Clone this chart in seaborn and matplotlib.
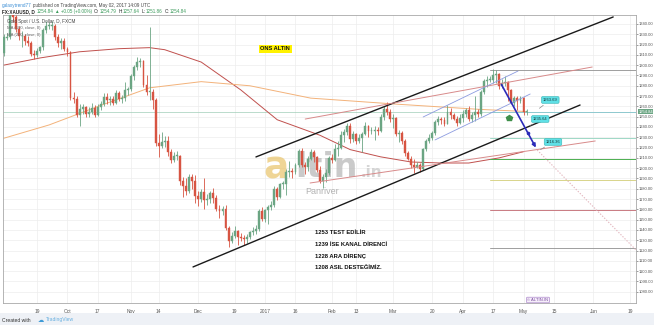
import numpy as np
import pandas as pd
import matplotlib
matplotlib.use("Agg")
import matplotlib.pyplot as plt
import seaborn as sns
from matplotlib.patches import Rectangle, FancyArrowPatch

# ---------------- data (daily XAUUSD, Sep 2 2016 .. May 2 2017, bar index) ----------------
opens = [
    1312, 1326, 1327, 1349, 1347, 1335, 1328, 1328, 1323, 1322,
    1311, 1310, 1314, 1318, 1334, 1338, 1338, 1338, 1327, 1322,
    1323, 1316, 1313, 1268, 1267, 1252, 1257, 1259, 1253, 1255,
    1258, 1252, 1259, 1262, 1269, 1266, 1267, 1263, 1273, 1267,
    1268, 1276, 1277, 1289, 1298, 1303, 1304, 1281, 1274, 1274,
    1266, 1224, 1222, 1225, 1226, 1216, 1208, 1212, 1212, 1188,
    1183, 1178, 1191, 1188, 1173, 1170, 1177, 1169, 1170, 1176,
    1171, 1160, 1158, 1160, 1142, 1129, 1134, 1139, 1133, 1132,
    1131, 1133, 1138, 1139, 1141, 1158, 1151, 1159, 1162, 1164,
    1180, 1172, 1185, 1185, 1196, 1197, 1196, 1203, 1217, 1203,
    1201, 1209, 1216, 1211, 1198, 1188, 1191, 1195, 1210, 1208,
    1219, 1220, 1232, 1235, 1241, 1228, 1233, 1226, 1229, 1233,
    1241, 1236, 1236, 1237, 1236, 1250, 1257, 1255, 1248, 1249,
    1233, 1234, 1226, 1215, 1209, 1203, 1201, 1203, 1199, 1219,
    1226, 1229, 1234, 1245, 1248, 1247, 1243, 1255, 1252, 1248,
    1244, 1249, 1253, 1256, 1248, 1252, 1255, 1253, 1274, 1285,
    1286, 1286, 1290, 1291, 1280, 1283, 1284, 1276, 1263, 1268,
    1265, 1268, 1254.79]
highs = [
    1330, 1331, 1352, 1352, 1349, 1338, 1333, 1330, 1328, 1323,
    1315, 1317, 1319, 1336, 1343, 1342, 1343, 1340, 1330, 1326,
    1326, 1318, 1314, 1274, 1270, 1262, 1262, 1260, 1259, 1263,
    1261, 1262, 1265, 1273, 1273, 1270, 1270, 1276, 1275, 1271,
    1284, 1279, 1291, 1300, 1308, 1307, 1305, 1290, 1337, 1277,
    1268, 1233, 1235, 1231, 1231, 1219, 1216, 1217, 1213, 1191,
    1190, 1194, 1194, 1193, 1178, 1180, 1190, 1175, 1178, 1181,
    1174, 1164, 1163, 1164, 1144, 1138, 1144, 1140, 1137, 1135,
    1136, 1139, 1143, 1145, 1160, 1162, 1160, 1164, 1168, 1183,
    1182, 1186, 1188, 1199, 1207, 1200, 1205, 1219, 1220, 1206,
    1212, 1219, 1218, 1212, 1202, 1194, 1199, 1212, 1214, 1223,
    1226, 1236, 1238, 1244, 1244, 1236, 1234, 1233, 1235, 1245,
    1242, 1240, 1241, 1240, 1253, 1260, 1264, 1257, 1253, 1250,
    1237, 1236, 1228, 1217, 1212, 1209, 1206, 1205, 1220, 1228,
    1233, 1236, 1247, 1251, 1250, 1250, 1261, 1258, 1254, 1251,
    1253, 1256, 1258, 1260, 1255, 1270, 1257, 1276, 1287, 1289,
    1289, 1296, 1295, 1292, 1287, 1289, 1285, 1277, 1270, 1270,
    1270, 1269, 1257.64]
lows = [
    1309, 1324, 1325, 1342, 1332, 1324, 1318, 1320, 1319, 1309,
    1306, 1308, 1312, 1315, 1331, 1335, 1334, 1324, 1318, 1316,
    1314, 1309, 1266, 1263, 1250, 1241, 1253, 1250, 1250, 1253,
    1250, 1251, 1256, 1260, 1262, 1261, 1261, 1262, 1265, 1263,
    1265, 1271, 1275, 1286, 1295, 1298, 1279, 1271, 1266, 1257,
    1222, 1211, 1220, 1221, 1212, 1205, 1206, 1208, 1184, 1172,
    1174, 1176, 1180, 1166, 1163, 1167, 1160, 1164, 1166, 1166,
    1158, 1152, 1155, 1140, 1123, 1127, 1132, 1125, 1129, 1125,
    1127, 1131, 1135, 1136, 1139, 1149, 1148, 1146, 1159, 1162,
    1169, 1171, 1180, 1174, 1191, 1190, 1194, 1201, 1201, 1194,
    1197, 1208, 1206, 1196, 1186, 1181, 1187, 1193, 1205, 1207,
    1212, 1219, 1225, 1232, 1224, 1225, 1223, 1224, 1216, 1232,
    1230, 1233, 1227, 1232, 1235, 1247, 1252, 1245, 1239, 1231,
    1225, 1223, 1212, 1208, 1200, 1195, 1200, 1196, 1198, 1217,
    1224, 1227, 1232, 1242, 1243, 1241, 1243, 1248, 1247, 1241,
    1243, 1245, 1250, 1246, 1245, 1246, 1250, 1251, 1272, 1279,
    1284, 1283, 1283, 1277, 1278, 1280, 1265, 1262, 1260, 1256,
    1263, 1252, 1251.86]
closes = [
    1327, 1327, 1349, 1347, 1335, 1328, 1328, 1323, 1322, 1311,
    1310, 1314, 1318, 1334, 1338, 1338, 1338, 1327, 1322, 1323,
    1316, 1313, 1268, 1267, 1252, 1257, 1259, 1253, 1255, 1258,
    1252, 1259, 1262, 1269, 1266, 1267, 1263, 1273, 1267, 1268,
    1276, 1277, 1289, 1298, 1303, 1304, 1281, 1274, 1274, 1266,
    1224, 1222, 1225, 1226, 1216, 1208, 1212, 1212, 1188, 1183,
    1178, 1191, 1188, 1173, 1170, 1177, 1169, 1170, 1176, 1171,
    1160, 1158, 1160, 1142, 1129, 1134, 1139, 1133, 1132, 1131,
    1133, 1138, 1139, 1141, 1158, 1151, 1159, 1162, 1164, 1180,
    1172, 1185, 1185, 1196, 1197, 1196, 1203, 1217, 1203, 1201,
    1209, 1216, 1211, 1198, 1188, 1191, 1195, 1210, 1208, 1219,
    1220, 1232, 1235, 1241, 1228, 1233, 1226, 1229, 1233, 1241,
    1236, 1236, 1237, 1236, 1250, 1257, 1255, 1248, 1249, 1233,
    1234, 1226, 1215, 1209, 1203, 1201, 1203, 1199, 1219, 1226,
    1229, 1234, 1245, 1248, 1247, 1243, 1255, 1252, 1248, 1244,
    1249, 1253, 1256, 1248, 1252, 1255, 1253, 1274, 1285, 1286,
    1286, 1290, 1291, 1280, 1283, 1284, 1276, 1263, 1268, 1265,
    1268, 1255, 1254.84]

# moving averages (bar index, price)
ma100_idx = [0, 12, 25, 38, 48, 53, 65, 78, 90, 104, 114, 124, 134, 144, 153, 163, 171]
ma100_val = [1300, 1307, 1313, 1316, 1317, 1315, 1303, 1276, 1247, 1232, 1218, 1211, 1206, 1205, 1205, 1210, 1216]
ma200_idx = [0, 15, 32, 48, 65, 81, 101, 130, 157, 172]
ma200_val = [1229, 1242, 1261, 1278, 1284, 1280, 1268, 1262, 1257, 1255]

# x-axis tick labels (bar index of the labelled day)
xtick_idx = [11, 21, 31, 42, 51, 64, 76, 86, 96, 108, 116, 128, 141, 151, 161, 171, 181, 194, 206]
xtick_lab = ["19", "Oct", "17", "Nov", "14", "Dec", "19", "2017", "16", "Feb", "13", "Mar",
             "20", "Apr", "17", "May", "15", "Jun", "19"]
ytick_vals = list(range(1080, 1341, 10))

# drawings (bar index, price)
chan_upper = ([83.0, 200.5], [1210.9, 1346.8])
chan_lower = ([62.3, 189.6], [1104.1, 1261.3])
red_upper = ([99.2, 193.6], [1247.7, 1298.2])
red_lower = ([100.8, 194.6], [1185.6, 1226.4])
blue_upper = ([138.0, 169.2], [1249.7, 1294.3])
blue_lower = ([141.9, 173.2], [1227.4, 1272.0])
arrow_pts = ([163.3, 175.5], [1283.6, 1217.6])
dotted_pts = ([175.5, 208.0], [1217.6, 1120.6])
fib_start = 160.0
fib_levels = [1295.4, 1254.6, 1229.4, 1209.0, 1188.6, 1159.6, 1122.6]
fib_colors = ["#9e9e9e", "#8fc9d0", "#9ed8c6", "#4caf50", "#d8d48a", "#c97a82", "#9e9e9e"]
callouts = [("1263.69", 179.8, 1266.2, 175.5, 1256.5),
            ("1235.64", 176.5, 1247.7, 172.5, 1240.0),
            ("1216.36", 180.7, 1225.4, 175.8, 1216.6)]
notes = ["1253 TEST EDİLİR", "1239 İSE KANAL DİRENCİ", "1228 ARA DİRENÇ", "1208 ASIL DESTEĞİMİZ."]
last_price = 1254.84

UP, DOWN = "#6ba583", "#d75442"

sns.set_theme(style="white")
plt.rcParams['font.family'] = ['Liberation Sans', 'DejaVu Sans']

W, H = 654, 325
fig = plt.figure(figsize=(W / 100, H / 100), dpi=100)
fig.patch.set_facecolor("white")
renderer = fig.canvas.get_renderer()

def fx(x):
    return x / W

def fy(y):
    return 1 - y / H

def chain(x0, y, parts, fs):
    x = x0
    for txt, col, wt, gap in parts:
        t = fig.text(fx(x), fy(y), txt, fontsize=fs, color=col, fontweight=wt,
                     ha="left", va="center")
        x += t.get_window_extent(renderer=renderer).width + gap

# footer band
fig.add_artist(Rectangle((0, 0), 1, 12 / H, transform=fig.transFigure,
                         facecolor="#eef1f6", edgecolor="none", zorder=0))

ax = fig.add_axes([fx(3), fy(303), (636 - 3) / W, (303 - 15) / H])
ax.set_facecolor("white")
ax.set_xlim(-0.2, 208.0)
ax.set_ylim(1069.1, 1348.7)

# grid
for v in ytick_vals:
    ax.axhline(v, color="#ededed", lw=0.5, zorder=0)
for v in xtick_idx:
    ax.axvline(v, color="#ededed", lw=0.5, zorder=0)

df = pd.DataFrame({"idx": np.arange(len(closes)), "open": opens, "high": highs,
                   "low": lows, "close": closes})
df["col"] = np.where(df["close"] >= df["open"], UP, DOWN)

# moving averages
sns.lineplot(x=ma100_idx, y=ma100_val, ax=ax, color="#c0504d", lw=0.7, zorder=2)
sns.lineplot(x=ma200_idx, y=ma200_val, ax=ax, color="#f3b27a", lw=0.7, zorder=2)

# watermark
ax.text(85.5, 1190, "a", fontsize=27, fontweight="bold", color="#e9c46a", alpha=0.7,
        family="DejaVu Sans", ha="left", va="baseline", zorder=1)
ax.text(96.0, 1191, "ltin", fontsize=24, fontweight="bold", color="#b9b9b9", alpha=0.75,
        family="DejaVu Sans", ha="left", va="baseline", zorder=1)
ax.text(117.5, 1191, ".in", fontsize=11, fontweight="bold", color="#c9c9c9", alpha=0.75,
        family="DejaVu Sans", ha="left", va="baseline", zorder=1)
ax.text(99.2, 1177, "Panriver", fontsize=6.5, color="#a5a5a5", alpha=0.85,
        ha="left", va="center", zorder=1)

# candles
ax.vlines(df["idx"], df["low"], df["high"], colors=df["col"], lw=0.6, zorder=3)
body = (df["close"] - df["open"]).abs().clip(lower=0.6)
ax.bar(df["idx"], body, bottom=df[["open", "close"]].min(axis=1), width=0.62,
       color=df["col"], edgecolor=df["col"], linewidth=0.3, zorder=4)

# fibonacci levels
for lv, c in zip(fib_levels, fib_colors):
    ax.plot([fib_start, 208.0], [lv, lv], color=c, lw=0.7, zorder=2)

# drawing lines
ax.plot(*chan_upper, color="#1a1a1a", lw=1.0, zorder=5)
ax.plot(*chan_lower, color="#1a1a1a", lw=1.0, zorder=5)
ax.plot(*red_upper, color="#d88a8a", lw=0.7, zorder=5)
ax.plot(*red_lower, color="#d88a8a", lw=0.7, zorder=5)
ax.plot(*blue_upper, color="#8c9be0", lw=0.6, zorder=5)
ax.plot(*blue_lower, color="#8c9be0", lw=0.6, zorder=5)
ax.plot(*dotted_pts, color="#e3b7bf", lw=0.8, ls=(0, (1.2, 1.4)), zorder=5)
ax.add_patch(FancyArrowPatch((arrow_pts[0][0], arrow_pts[1][0]), (arrow_pts[0][1], arrow_pts[1][1]),
                             arrowstyle="-|>", mutation_scale=5, color="#2b2bb8", lw=1.2, zorder=6))
ax.plot([172.4], [1234.5], marker="o", ms=1.6, color="#2b2bb8", zorder=6)
ax.plot([166.3], [1248.6], marker="p", ms=4.0, color="#3f8f4a", zorder=6)

for txt, bx, by, tx, ty in callouts:
    ax.annotate(txt, xy=(tx, ty), xytext=(bx, by), fontsize=3.0, color="#1a3a3a",
                ha="center", va="center", zorder=7,
                bbox=dict(boxstyle="round,pad=0.35", fc="#5fe0e6", ec="#3cb7b7", lw=0.4),
                arrowprops=dict(arrowstyle="-", color="#8a8a8a", lw=0.5))

# last price line
ax.axhline(last_price, color="#9fcdb8", lw=0.5, zorder=1)

# texts
ax.text(89.3, 1315.7, "ONS ALTIN", fontsize=4.1, fontweight="bold", color="#111111",
        ha="center", va="center", zorder=7,
        bbox=dict(boxstyle="square,pad=0.3", fc="#fff200", ec="none"))
for k, t in enumerate(notes):
    fig.text(fx(315), fy(233 + 11.5 * k), t, fontsize=4.2, fontweight="bold",
             color="#111111", ha="left", va="center")

# axes styling
for s in ["left", "bottom", "right", "top"]:
    ax.spines[s].set_color("#a8a8a8")
    ax.spines[s].set_linewidth(0.6)
ax.set_xticks(xtick_idx)
ax.set_xticklabels(xtick_lab)
ax.yaxis.tick_right()
ax.set_yticks(ytick_vals)
ax.set_yticklabels([f"{v:.2f}" for v in ytick_vals])
ax.tick_params(axis="x", labelsize=3.5, colors="#555555", length=2, width=0.4, pad=2)
ax.tick_params(axis="y", labelsize=3.0, colors="#555555", length=1.2, width=0.4, pad=0.6)
ax.set_xlabel("")
ax.set_ylabel("")

# last price tag
ax.annotate(f"{last_price:.2f}", xy=(1.0, last_price), xycoords=("axes fraction", "data"),
            xytext=(1.6, 0), textcoords="offset points", fontsize=3.0, color="white",
            ha="left", va="center", annotation_clip=False, zorder=8,
            bbox=dict(boxstyle="square,pad=0.15", fc="#6ba583", ec="none"))

# header
chain(2, 5, [("galaxytrend77", "#3d8fd6", "normal", 1.2),
             ("published on TradingView.com, May 02, 2017 14:09 UTC", "#444444", "normal", 0)], 3.3)
chain(2, 11.5, [("FX:XAUUSD, D", "#222222", "bold", 2),
                ("1254.84", "#3a9a5a", "normal", 1.2),
                ("▲ +0.05 (+0.00%)", "#3a9a5a", "normal", 2),
                ("O:", "#222222", "normal", 0.3), ("1254.79", "#3a9a5a", "normal", 2),
                ("H:", "#222222", "normal", 0.3), ("1257.64", "#3a9a5a", "normal", 2),
                ("L:", "#222222", "normal", 0.3), ("1251.86", "#3a9a5a", "normal", 2),
                ("C:", "#222222", "normal", 0.3), ("1254.84", "#3a9a5a", "normal", 0)], 3.3)

# in-pane legend
fig.text(fx(7), fy(22), "Gold Spot / U.S. Dollar, D, FXCM", fontsize=3.3, color="#444444",
         ha="left", va="center")
fig.text(fx(7), fy(28.5), "MA (100, close, 0)", fontsize=3.1, color="#666666", ha="left", va="center")
fig.text(fx(7), fy(35), "MA (200, close, 0)", fontsize=3.1, color="#666666", ha="left", va="center")

# stamp
fig.text(fx(538), fy(300), "© ALTIN.IN", fontsize=3, color="#7a4fa0", ha="center", va="center",
         bbox=dict(boxstyle="round,pad=0.2", fc="#f6eefa", ec="#9b6fc0", lw=0.4))

# footer
chain(2, 320, [("Created with", "#333333", "normal", 2)], 3.6)
fig.text(fx(38), fy(320), "☁", fontsize=4.5, color="#3d9ad6", ha="left", va="center",
         family="DejaVu Sans")
fig.text(fx(46), fy(320), "TradingView", fontsize=3.6, color="#68b0e0", ha="left", va="center")

fig.savefig("out.png", dpi=100, facecolor="white")
